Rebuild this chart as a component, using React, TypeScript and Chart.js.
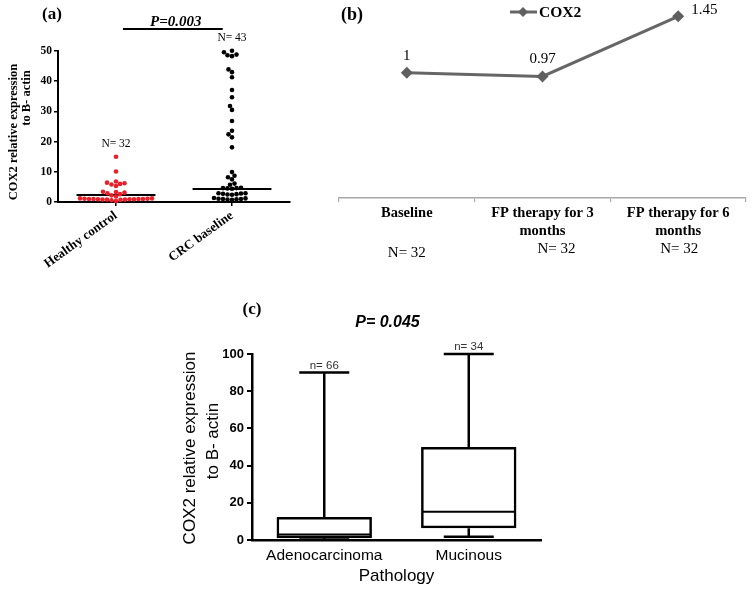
import React, { useEffect, useRef } from "react";
import { Chart, registerables } from "chart.js";
Chart.register(...registerables);

// ---------- Panel (a): COX2 expression, healthy vs CRC ----------
const groupsA = ["Healthy control", "CRC baseline"];
const healthyValues = [
  15, 10.1, 6.8, 6.4, 6.0, 5.8, 6.2, 5.3, 3.4, 3.1, 2.9, 2.6, 3.3, 2.2, 1.8,
  1.2, 1.0, 0.9, 1.1, 0.8, 1.0, 0.9, 0.7, 1.2, 0.8, 1.0, 0.9, 1.1, 0.6, 0.8, 1.0, 0.3,
];
const crcValues = [
  50.1, 49.6, 48.8, 48.3, 48.6, 43.9, 43.0, 41.3, 37.1, 34.7, 31.8, 30.5, 26.8, 23.6, 22.4, 21.4, 18.1,
  9.9, 8.7, 8.2, 7.5, 6.1, 5.7,
  4.6, 4.5, 4.7, 4.4, 4.6, 2.9, 2.6, 2.8, 2.5, 2.7, 2.4, 2.9, 1.2, 1.0, 0.9, 1.1, 0.8, 1.3, 1.0, 0.7,
];
const groupMedians = [2.3, 4.3];
const groupN = ["N= 32", "N= 43"];
const pValueA = "P=0.003";
const yMaxA = 50;
const yStepA = 10;
const yTitleA = ["COX2 relative expression", "to B- actin"];

// ---------- Panel (b): COX2 fold change over FP therapy ----------
const timepoints = [["Baseline"], ["FP therapy for 3", "months"], ["FP therapy for 6", "months"]];
const cox2Fold = [1, 0.97, 1.45];
const cox2Labels = ["1", "0.97", "1.45"];
const nTime = ["N= 32", "N= 32", "N= 32"];
const seriesB = "COX2";

// ---------- Panel (c): COX2 by pathology (box plot) ----------
const pathology = ["Adenocarcinoma", "Mucinous"];
const boxMin = [0.3, 1.8];
const boxQ1 = [0.9, 6.3];
const boxMedian = [3.0, 15.2];
const boxQ3 = [12.4, 50];
const boxMax = [90, 100];
const nPath = ["n= 66", "n= 34"];
const pValueC = "P= 0.045";
const yMaxC = 100;
const yStepC = 20;
const yTitleC = ["COX2 relative expression", "to B- actin"];
const xTitleC = "Pathology";

const SERIF = '"Liberation Serif", "Times New Roman", serif';
const SANS = '"Liberation Sans", Arial, sans-serif';

// deterministic beeswarm layout (pixel-space collision avoidance)
function swarm(values: number[], center: number, pxPerX: number, pxPerY: number, diam: number) {
  const order = values.map((_, i) => i).sort((a, b) => values[a] - values[b]);
  const placed: { x: number; y: number }[] = [];
  const out: { x: number; y: number }[] = new Array(values.length);
  for (const i of order) {
    const y = values[i] * pxPerY;
    let best = 0;
    for (let k = 0; k < 400; k++) {
      const off = (k % 2 === 0 ? 1 : -1) * Math.ceil(k / 2) * 0.5;
      if (placed.every((p) => Math.hypot(p.x - off, p.y - y) >= diam)) {
        best = off;
        break;
      }
    }
    placed.push({ x: best, y });
    out[i] = { x: center + best / pxPerX, y: values[i] };
  }
  return out;
}

function rotText(ctx: CanvasRenderingContext2D, text: string, x: number, y: number) {
  ctx.save();
  ctx.translate(x, y);
  ctx.rotate(-Math.PI / 2);
  ctx.textAlign = "center";
  ctx.textBaseline = "middle";
  ctx.fillText(text, 0, 0);
  ctx.restore();
}

const annotA = {
  id: "annotA",
  afterDraw(chart: any) {
    const { ctx, scales } = chart;
    const x = scales.x;
    const y = scales.y;
    ctx.save();
    ctx.fillStyle = "#000";
    ctx.strokeStyle = "#000";
    ctx.textAlign = "center";
    ctx.textBaseline = "middle";
    ctx.font = `bold 17px ${SERIF}`;
    ctx.fillText("(a)", 52, 15);
    // significance bracket
    const bx1 = x.getPixelForValue(1.06);
    const bx2 = x.getPixelForValue(1.92);
    const by = y.getPixelForValue(57.3);
    ctx.lineWidth = 2;
    ctx.beginPath();
    ctx.moveTo(bx1, by);
    ctx.lineTo(bx2, by);
    ctx.stroke();
    ctx.font = `italic bold 15px ${SERIF}`;
    ctx.textBaseline = "alphabetic";
    ctx.fillText(pValueA, (bx1 + bx2) / 2 + 3, by - 3);
    // N labels
    ctx.font = `11.5px ${SERIF}`;
    ctx.textBaseline = "middle";
    const maxes = [Math.max(...healthyValues), Math.max(...crcValues)];
    groupN.forEach((t, i) => {
      ctx.fillText(t, x.getPixelForValue(i + 1), y.getPixelForValue(maxes[i]) - 12.5);
    });
    // y title
    ctx.font = `bold 12.5px ${SERIF}`;
    rotText(ctx, yTitleA[0], 14, 132);
    rotText(ctx, yTitleA[1], 27, 98);
    ctx.restore();
  },
};

const annotB = {
  id: "annotB",
  afterDraw(chart: any) {
    const { ctx, scales } = chart;
    const x = scales.x;
    const y = scales.y;
    ctx.save();
    ctx.fillStyle = "#000";
    ctx.textAlign = "center";
    ctx.textBaseline = "middle";
    ctx.font = `bold 18px ${SERIF}`;
    ctx.fillText("(b)", 112, 15);
    // legend
    ctx.strokeStyle = "#666";
    ctx.lineWidth = 3;
    ctx.beginPath();
    ctx.moveTo(270, 12);
    ctx.lineTo(297, 12);
    ctx.stroke();
    ctx.fillStyle = "#5f5f5f";
    ctx.beginPath();
    ctx.moveTo(283, 7);
    ctx.lineTo(288, 12);
    ctx.lineTo(283, 17);
    ctx.lineTo(278, 12);
    ctx.closePath();
    ctx.fill();
    ctx.fillStyle = "#000";
    ctx.textAlign = "left";
    ctx.font = `bold 15.5px ${SERIF}`;
    ctx.fillText(seriesB, 299, 13);
    // value labels
    ctx.font = `15px ${SERIF}`;
    cox2Fold.forEach((v, i) => {
      const px = x.getPixelForValue(i);
      const py = y.getPixelForValue(v);
      if (i === cox2Fold.length - 1) {
        ctx.textAlign = "left";
        ctx.fillText(cox2Labels[i], px + 13, py - 6);
      } else {
        ctx.textAlign = "center";
        ctx.fillText(cox2Labels[i], px, py - 17);
      }
    });
    // N labels under categories
    ctx.textAlign = "center";
    const dx = [0, 14, 1];
    const yy = [253, 249, 249];
    nTime.forEach((t, i) => {
      ctx.fillText(t, x.getPixelForValue(i) + dx[i], yy[i]);
    });
    ctx.restore();
  },
};

const annotC = {
  id: "annotC",
  afterDraw(chart: any) {
    const { ctx, scales } = chart;
    const x = scales.x;
    const y = scales.y;
    ctx.save();
    ctx.fillStyle = "#000";
    ctx.textAlign = "center";
    ctx.textBaseline = "middle";
    ctx.font = `bold 17px ${SERIF}`;
    ctx.fillText("(c)", 102, 20);
    ctx.font = `italic bold 16px ${SANS}`;
    ctx.fillText(pValueC, (x.left + x.right) / 2 - 9, 33);
    ctx.font = `11.5px ${SANS}`;
    ctx.fillStyle = "#333";
    nPath.forEach((t, i) => {
      ctx.fillText(t, x.getPixelForValue(i), y.getPixelForValue(boxMax[i]) - 7);
    });
    ctx.fillStyle = "#000";
    ctx.font = `17px ${SANS}`;
    rotText(ctx, yTitleC[0], 40, 158);
    rotText(ctx, yTitleC[1], 63, 151);
    ctx.restore();
  },
};

function makeA(): any {
  const pxPerX = 116;
  const pxPerY = 151 / yMaxA;
  const healthyPts = swarm(healthyValues, 1, pxPerX, pxPerY, 4.4);
  const crcPts = swarm(crcValues, 2, pxPerX, pxPerY, 4.4);
  const medianLines = groupMedians.flatMap((m, i) => [
    { x: i + 1 - 0.34, y: m },
    { x: i + 1 + 0.34, y: m },
    { x: i + 1, y: null },
  ]);
  return {
    type: "scatter",
    data: {
      datasets: [
        { label: groupsA[0], data: healthyPts, backgroundColor: "#e8202a", pointRadius: 2.3, borderWidth: 0, clip: false },
        { label: groupsA[1], data: crcPts, backgroundColor: "#000", pointRadius: 2.3, borderWidth: 0, clip: false },
        { type: "line", label: "median", data: medianLines, borderColor: "#000", borderWidth: 2, pointRadius: 0, spanGaps: false, clip: false },
      ],
    },
    options: {
      responsive: false,
      animation: false,
      layout: { padding: { top: 51, right: 10, left: 0, bottom: 0 } },
      plugins: { legend: { display: false }, tooltip: { enabled: false } },
      scales: {
        x: {
          type: "linear",
          min: 0.5,
          max: 2.5,
          afterBuildTicks: (s: any) => { s.ticks = [{ value: 1 }, { value: 2 }]; },
          afterFit: (s: any) => { s.height = 68; },
          ticks: {
            callback: (v: number) => groupsA[Math.round(v) - 1],
            minRotation: 36,
            maxRotation: 36,
            font: { family: SERIF, weight: "bold", size: 13 },
            color: "#000",
            padding: 2,
          },
          grid: { drawOnChartArea: false, tickLength: 4, color: "#000", lineWidth: 1.5 },
          border: { color: "#000", width: 2 },
        },
        y: {
          min: 0,
          max: yMaxA,
          afterFit: (s: any) => { s.width = 58; },
          ticks: { stepSize: yStepA, font: { family: SERIF, weight: "bold", size: 11.5 }, color: "#000", padding: 2 },
          grid: { drawOnChartArea: false, tickLength: 4, color: "#000", lineWidth: 1.5 },
          border: { color: "#000", width: 2 },
        },
      },
    },
    plugins: [annotA],
  };
}

function makeB(): any {
  return {
    type: "line",
    data: {
      labels: timepoints,
      datasets: [
        {
          label: seriesB,
          data: cox2Fold,
          borderColor: "#666",
          backgroundColor: "#5f5f5f",
          borderWidth: 3,
          pointStyle: "rectRot",
          pointRadius: 6,
          pointBackgroundColor: "#5f5f5f",
          pointBorderWidth: 0,
          clip: false,
        },
      ],
    },
    options: {
      responsive: false,
      animation: false,
      layout: { padding: { left: 99, right: 4, top: 10, bottom: 0 } },
      plugins: { legend: { display: false }, tooltip: { enabled: false } },
      scales: {
        x: {
          offset: true,
          grid: { offset: true, drawOnChartArea: false, tickLength: 4, color: "#a8a8a8", lineWidth: 1.2 },
          border: { color: "#a8a8a8", width: 1.5 },
          ticks: { font: { family: SERIF, weight: "bold", size: 14.5 }, color: "#000", padding: 3, maxRotation: 0, autoSkip: false },
          afterFit: (s: any) => { s.height = 82; },
        },
        y: { display: false, min: 0, max: 1.5 },
      },
    },
    plugins: [annotB],
  };
}

function makeC(): any {
  const whiskers = pathology.flatMap((_, i) => [
    { x: i, y: boxQ3[i] }, { x: i, y: boxMax[i] }, { x: i, y: null },
    { x: i, y: boxQ1[i] }, { x: i, y: boxMin[i] }, { x: i, y: null },
  ]);
  const caps = pathology.flatMap((_, i) => [
    { x: i - 0.173, y: boxMax[i] }, { x: i + 0.173, y: boxMax[i] }, { x: i, y: null },
    { x: i - 0.173, y: boxMin[i] }, { x: i + 0.173, y: boxMin[i] }, { x: i, y: null },
  ]);
  const medians = pathology.flatMap((_, i) => [
    { x: i - 0.32, y: boxMedian[i] }, { x: i + 0.32, y: boxMedian[i] }, { x: i, y: null },
  ]);
  return {
    type: "bar",
    data: {
      datasets: [
        {
          type: "bar",
          label: "IQR",
          data: pathology.map((_, i) => ({ x: i, y: [boxQ1[i], boxQ3[i]] })),
          backgroundColor: "rgba(255,255,255,0)",
          borderColor: "#000",
          borderWidth: 2.5,
          borderSkipped: false,
          barPercentage: 0.66,
          categoryPercentage: 1,
        },
        { type: "line", label: "whisker", data: whiskers, borderColor: "#000", borderWidth: 2.5, pointRadius: 0, spanGaps: false, clip: false },
        { type: "line", label: "cap", data: caps, borderColor: "#000", borderWidth: 2.5, pointRadius: 0, spanGaps: false, clip: false },
        { type: "line", label: "median", data: medians, borderColor: "#000", borderWidth: 2, pointRadius: 0, spanGaps: false, clip: false },
      ],
    },
    options: {
      responsive: false,
      animation: false,
      layout: { padding: { top: 64, right: 29, left: 0, bottom: 0 } },
      plugins: { legend: { display: false }, tooltip: { enabled: false } },
      scales: {
        x: {
          type: "linear",
          offset: false,
          min: -0.5,
          max: 1.5,
          afterBuildTicks: (s: any) => { s.ticks = [{ value: 0 }, { value: 1 }]; },
          afterFit: (s: any) => { s.height = 49; },
          ticks: { callback: (v: number) => pathology[Math.round(v)], font: { family: SANS, size: 15.5 }, color: "#000", padding: 6, maxRotation: 0 },
          grid: { offset: false, drawOnChartArea: false, drawTicks: false },
          border: { color: "#000", width: 2.5 },
          title: { display: true, text: xTitleC, font: { family: SANS, size: 17 }, color: "#000", padding: { top: 0, bottom: 2 } },
        },
        y: {
          min: 0,
          max: yMaxC,
          afterFit: (s: any) => { s.width = 102; },
          ticks: { stepSize: yStepC, font: { family: SANS, weight: "bold", size: 13 }, color: "#000", padding: 3 },
          grid: { drawOnChartArea: false, tickLength: 5, color: "#000", lineWidth: 2 },
          border: { color: "#000", width: 2.5 },
        },
      },
    },
    plugins: [annotC],
  };
}

function ChartCanvas({ make, left, top, width, height }: any) {
  const ref = useRef<HTMLCanvasElement>(null);
  useEffect(() => {
    const c = new Chart(ref.current as HTMLCanvasElement, make());
    return () => c.destroy();
  }, []);
  return (
    <canvas
      ref={ref}
      width={width}
      height={height}
      style={{ position: "absolute", left, top, width, height, display: "block" }}
    />
  );
}

export default function App() {
  useEffect(() => {
    document.body.style.margin = "0";
    document.body.style.background = "#fff";
  }, []);
  return (
    <div style={{ position: "relative", width: 752, height: 589, background: "#fff", overflow: "hidden" }}>
      <ChartCanvas make={makeA} left={0} top={0} width={300} height={270} />
      <ChartCanvas make={makeB} left={240} top={0} width={512} height={280} />
      <ChartCanvas make={makeC} left={150} top={290} width={420} height={299} />
    </div>
  );
}
